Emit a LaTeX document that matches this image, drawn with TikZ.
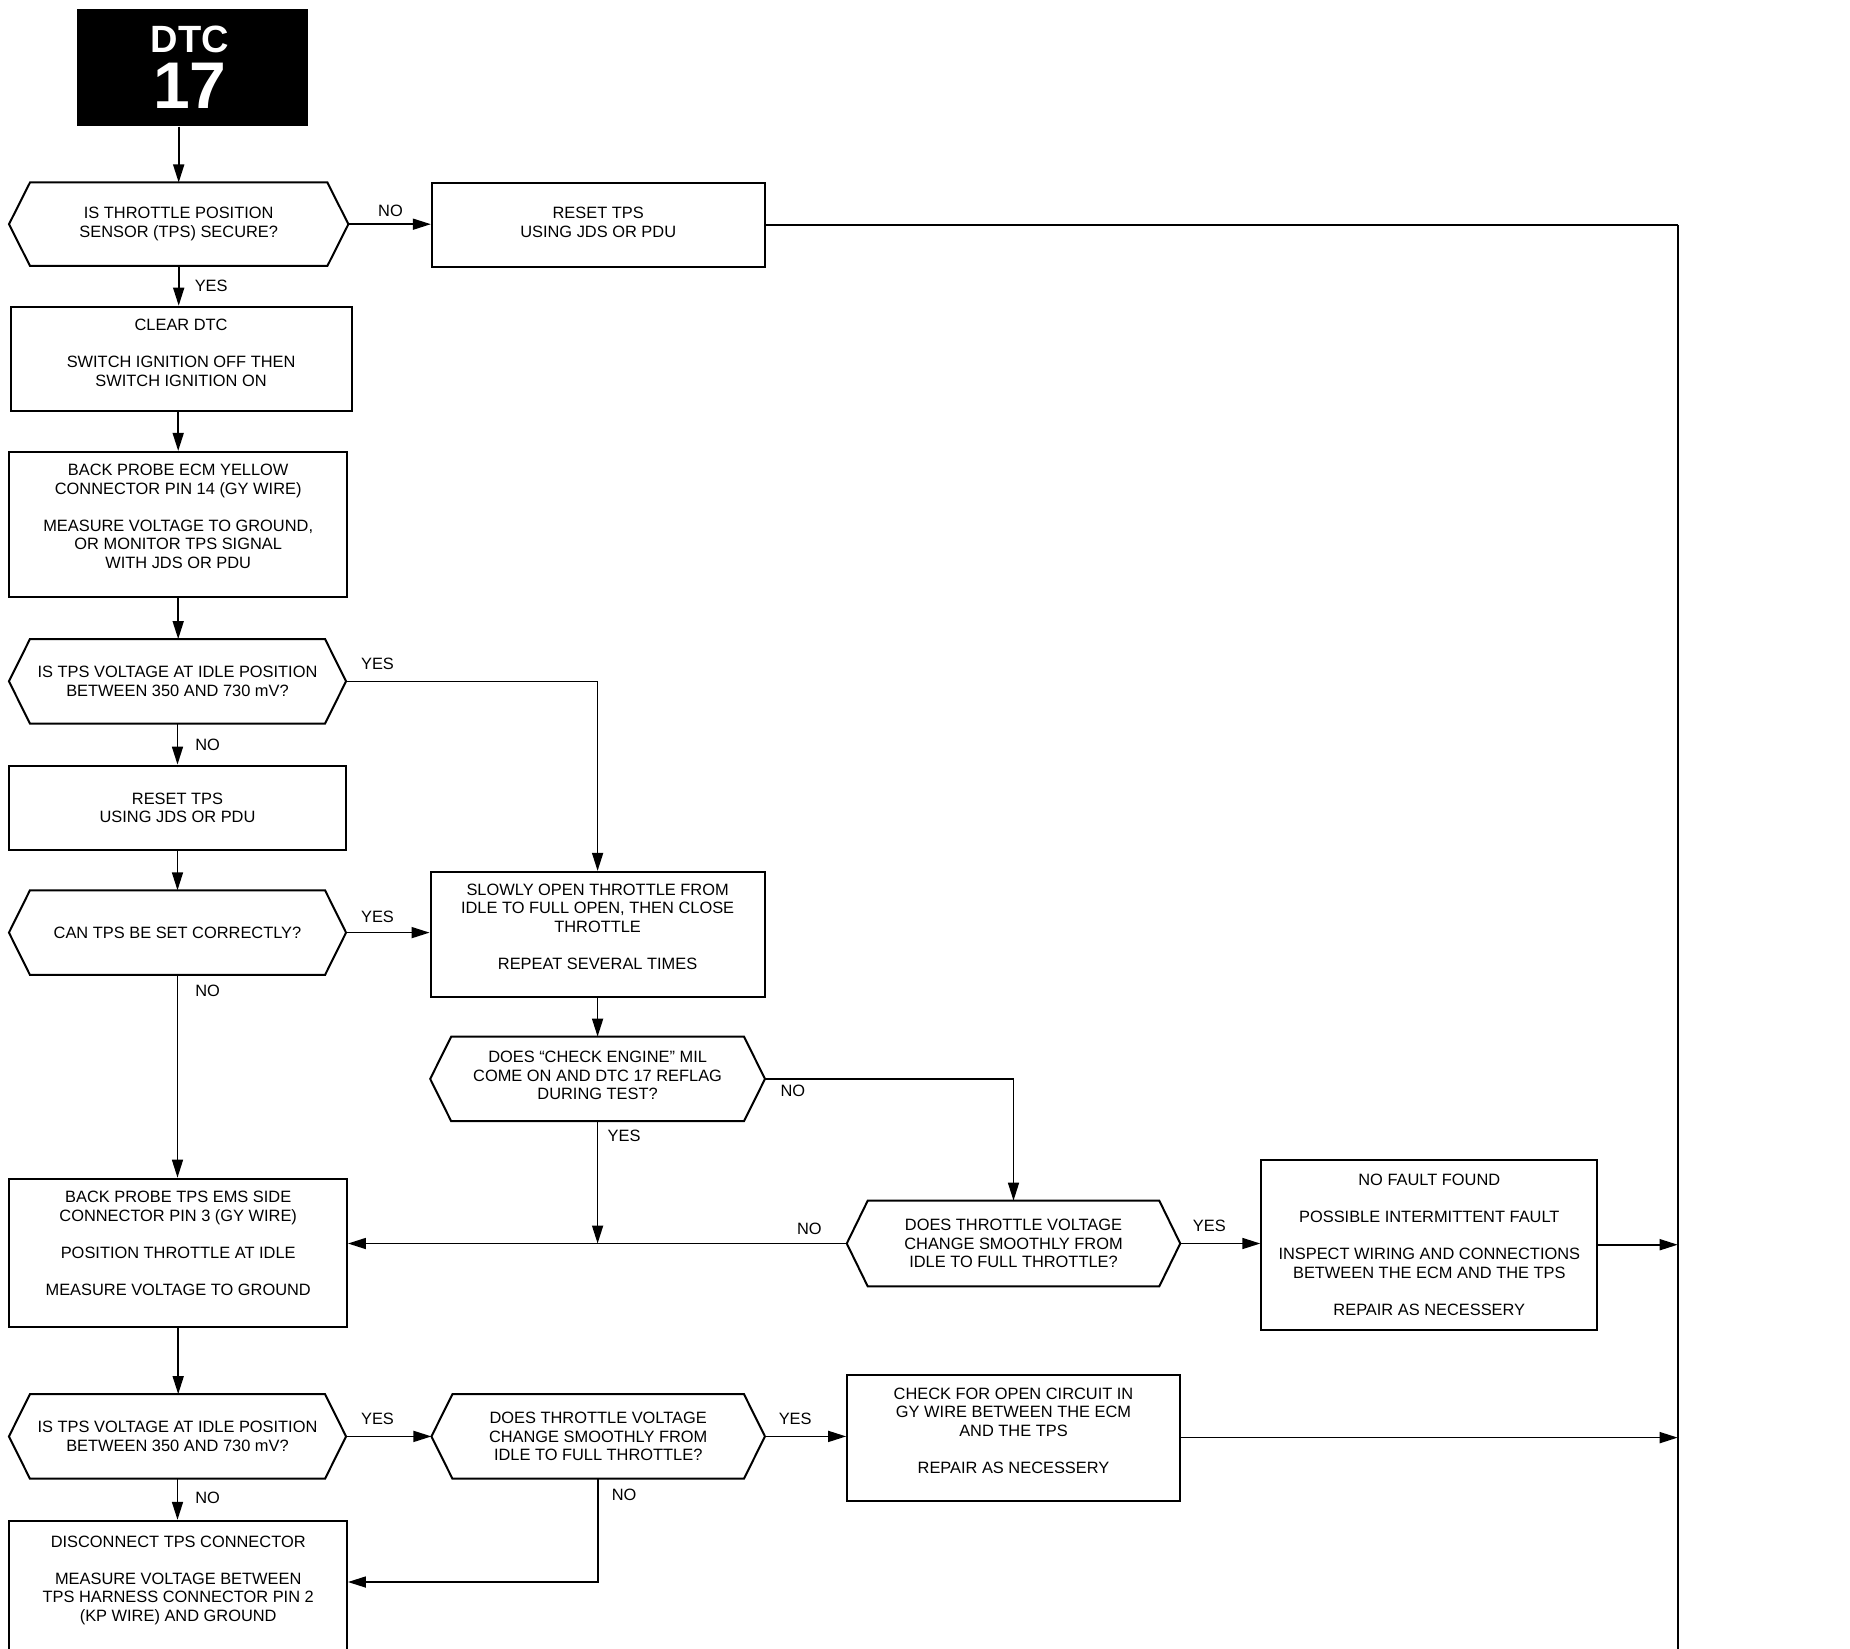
\documentclass[tikz,border=0pt]{standalone}
\usepackage{fontspec}
\setmainfont{Liberation Sans}
\usetikzlibrary{arrows.meta,calc}
\newcommand{\gap}{\\[9.25pt]}
\newcommand{\dn}[1]{\rule[-#1]{0pt}{#1}}
\begin{document}
\begin{tikzpicture}[x=0.5pt,y=-0.5pt,
  every node/.style={font=\fontsize{8.2}{9.25}\selectfont, align=center, inner sep=0pt},
  box/.style 2 args={draw, line width=1pt, minimum width=#1*0.5pt, minimum height=#2*0.5pt},
  hexa/.style 2 args={minimum width=#1*0.5pt, minimum height=#2*0.5pt},
  arr/.style={line width=0.8pt, -{Triangle[length=9pt,width=5.5pt]}},
  ln/.style={line width=0.8pt}]
\fill[white] (0,0) rectangle (1850,1648);
\useasboundingbox (0,0) rectangle (1850,1648);
\clip (0,0) rectangle (1850,1648);

% DTC header
\node[fill=black, minimum width=231*0.5pt, minimum height=117*0.5pt] (dtc) at (192.3,67.8) {};
\node[anchor=base, text=white, text depth=0pt, font=\bfseries\fontsize{19}{19}\selectfont] (dtcA) at (190,53) {DTC};
\node[anchor=base, text=white, text height=23.5pt, font=\bfseries\fontsize{33}{33}\selectfont] (dtcB) at (190,108.5) {17};

% decisions (hexagons)
\node[hexa={338.6}{82.6}] (h1) at (178.7,224.2) {IS THROTTLE POSITION\\SENSOR (TPS) SECURE?};
\node[hexa={336.3}{83.7}] (h2) at (177.5,681.3) {IS TPS VOLTAGE AT IDLE POSITION\\BETWEEN 350 AND 730 mV?};
\node[hexa={336.3}{83.8}] (h3) at (177.5,932.6) {CAN TPS BE SET CORRECTLY?};
\node[hexa={334}{83.8}] (h4) at (597.6,1078.9) {DOES ``CHECK ENGINE'' MIL\\COME ON AND DTC 17 REFLAG\\DURING TEST?\dn{3.5pt}};
\node[hexa={332.7}{85}] (h5) at (1013.5,1243.5) {DOES THROTTLE VOLTAGE\\CHANGE SMOOTHLY FROM\\IDLE TO FULL THROTTLE?};
\node[hexa={336.3}{83.8}] (h6) at (177.5,1436.4) {IS TPS VOLTAGE AT IDLE POSITION\\BETWEEN 350 AND 730 mV?};
\node[hexa={332.7}{83.8}] (h7) at (598.2,1436.4) {DOES THROTTLE VOLTAGE\\CHANGE SMOOTHLY FROM\\IDLE TO FULL THROTTLE?};
\foreach \n in {h1,h2,h3,h4,h5,h6,h7}{
  \draw[line width=1pt] ([xshift=10.5pt]\n.north west) -- ([xshift=-10.5pt]\n.north east) -- (\n.east)
    -- ([xshift=-10.5pt]\n.south east) -- ([xshift=10.5pt]\n.south west) -- (\n.west) -- cycle;
}

% process boxes
\node[box={332.7}{83.7}] (r1) at (598.2,224.8) {RESET TPS\\USING JDS OR PDU\dn{2.5pt}};
\node[box={341}{104}] (clr) at (181.1,358.7) {CLEAR DTC\gap SWITCH IGNITION OFF THEN\\SWITCH IGNITION ON\dn{6pt}};
\node[box={337.5}{145}] (ecm) at (178.2,524.4) {BACK PROBE ECM YELLOW\\CONNECTOR PIN 14 (GY WIRE)\gap MEASURE VOLTAGE TO GROUND,\\OR MONITOR TPS SIGNAL\\WITH JDS OR PDU\dn{8pt}};
\node[box={336.3}{84}] (r2) at (177.5,807.6) {RESET TPS\\USING JDS OR PDU};
\node[box={334}{125}] (slow) at (597.6,934.4) {SLOWLY OPEN THROTTLE FROM\\IDLE TO FULL OPEN, THEN CLOSE\\THROTTLE\gap REPEAT SEVERAL TIMES\dn{8pt}};
\node[box={336}{170}] (nff) at (1429.3,1244.7) {NO FAULT FOUND\gap POSSIBLE INTERMITTENT FAULT\gap INSPECT WIRING AND CONNECTIONS\\BETWEEN THE ECM AND THE TPS\gap REPAIR AS NECESSERY};
\node[box={337.5}{148.7}] (tps) at (178.2,1253) {BACK PROBE TPS EMS SIDE\\CONNECTOR PIN 3 (GY WIRE)\gap POSITION THROTTLE AT IDLE\gap MEASURE VOLTAGE TO GROUND\dn{9.5pt}};
\node[box={332.7}{126}] (chk) at (1013.5,1437.6) {CHECK FOR OPEN CIRCUIT IN\\GY WIRE BETWEEN THE ECM\\AND THE TPS\gap REPAIR AS NECESSERY\dn{7pt}};
\node[box={337.5}{220}] (dis) at (178.2,1630.8) {};
\node (disT) at (178.2,1580.4) {DISCONNECT TPS CONNECTOR\gap MEASURE VOLTAGE BETWEEN\\TPS HARNESS CONNECTOR PIN 2\\(KP WIRE) AND GROUND};

% right-hand bus
\coordinate (rtop) at (1677.7,224.8);
\coordinate (rbot) at (1677.7,1700);

% connectors
\draw[arr] (dtc.south -| h1.north) -- (h1.north);
\draw[arr] (h1.east) -- (h1.east -| r1.west);
\draw[line width=1pt] (r1.east) -- (rtop);
\draw[ln] (rtop) -- (rbot);
\draw[arr] (h1.south) -- (h1.south |- clr.north);
\draw[arr] (ecm.north |- clr.south) -- (ecm.north);
\draw[arr] (ecm.south) -- (ecm.south |- h2.north);
\draw[arr] (h2.east) -| (slow.north);
\draw[arr] (h2.south) -- (r2.north);
\draw[arr] (r2.south) -- (h3.north);
\draw[arr] (h3.east) -- (h3.east -| slow.west);
\draw[arr] (h3.south) -- (h3.south |- tps.north);
\draw[arr] (slow.south) -- (h4.north);
\draw[arr] (h4.east) -| (h5.north);
\coordinate (j) at (h4.south |- h5.west);
\draw[arr] (h4.south) -- (j);
\draw[arr] (h5.west) -- (h5.west -| tps.east);
\draw[arr] (h5.east) -- (h5.east -| nff.west);
\draw[arr] (nff.east) -- (nff.east -| rtop);
\draw[arr] (tps.south) -- (tps.south |- h6.north);
\draw[arr] (h6.east) -- (h7.west);
\draw[arr] (h7.east) -- (h7.east -| chk.west);
\draw[arr] (chk.east) -- (chk.east -| rtop);
\draw[arr] (h6.south) -- (h6.south |- dis.north);
\coordinate (k) at (598.2,1582);
\draw[arr] (h7.south) -- (k) -- (k -| dis.east);

% branch labels
\node (l1) at (390.5,211.2) {NO};
\node (l2) at (211.2,285.5) {YES};
\node (l3) at (377.5,664.2) {YES};
\node (l4) at (207.6,744.5) {NO};
\node (l5) at (377.5,916.7) {YES};
\node (l6) at (207.6,991) {NO};
\node (l7) at (792.8,1091.3) {NO};
\node (l8) at (624.1,1136.1) {YES};
\node (l9) at (809.3,1229.3) {NO};
\node (l10) at (1209.3,1225.8) {YES};
\node (l11) at (377.5,1419.3) {YES};
\node (l12) at (795.2,1419.3) {YES};
\node (l13) at (207.6,1498.3) {NO};
\node (l14) at (624.1,1494.8) {NO};
\end{tikzpicture}
\end{document}
